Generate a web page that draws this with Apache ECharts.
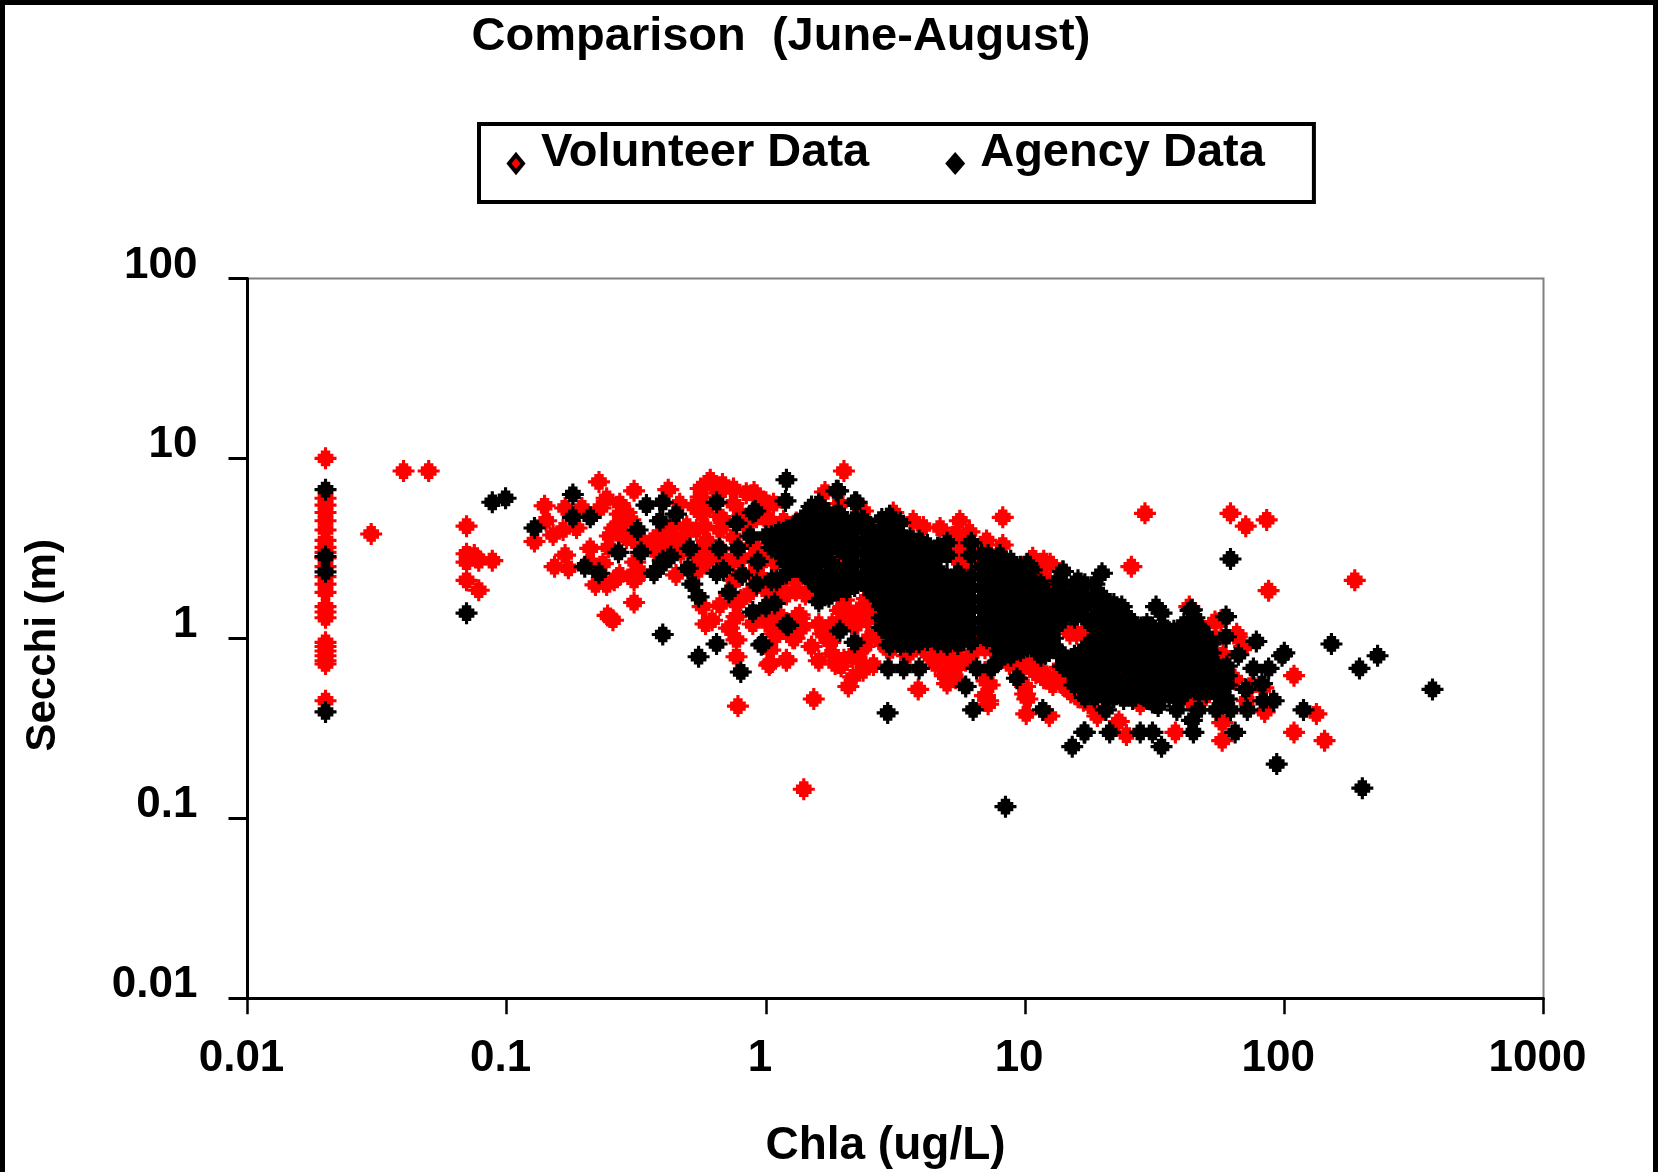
<!DOCTYPE html>
<html><head><meta charset="utf-8">
<style>html,body{margin:0;padding:0;background:#fff}#c{width:1658px;height:1172px}</style>
<script src="https://cdn.jsdelivr.net/npm/echarts@6/dist/echarts.min.js"></script>
</head><body><div id="c"></div>
<script>
const titleText = 'Comparison  (June-August)';
const xName = 'Chla (ug/L)';
const yName = 'Secchi (m)';
const xTickLabels = ['0.01','0.1','1','10','100','1000'];
const yTickLabels = ['0.01','0.1','1','10','100'];
const seriesNames = ['Volunteer Data','Agency Data'];

// Chla = 0.02 column and other isolated low-Chla volunteer samples
const volunteerLowChla = [
[0.02,10],[0.02,6],[0.02,5.5],[0.02,5],[0.02,4.5],[0.02,4],[0.02,3.5],[0.02,3.2],[0.02,3],[0.02,2.8],[0.02,2.5],[0.02,2.2],[0.02,2],[0.02,1.8],[0.02,1.5],[0.02,1.4],[0.02,1.3],[0.02,0.95],[0.02,0.9],[0.02,0.85],[0.02,0.8],[0.02,0.75],[0.02,0.72],[0.02,0.45],
[0.04,8.5],[0.05,8.5],[0.03,3.8],[0.07,4.2],[0.07,2.95],[0.07,2.65],[0.07,2.1],[0.075,2.9],[0.078,2.7],[0.078,1.85],[0.088,2.7]];
// volunteer cloud, Chla 0.1-1
const volunteerLeft = [
[0.227,7.4],[0.31,6.6],[0.42,6.7],[0.56,6.8],[0.61,7.6],[0.68,7.2],[0.66,6.4],[0.56,6.1],[0.84,6.4],[0.95,5.9],[0.75,6.8],[0.63,7],
[0.14,5.45],[0.168,5.3],[0.142,4.5],[0.195,5.3],[0.243,6],[0.273,5.6],[0.29,5],[0.23,5.3],[0.465,5.6],
[0.128,3.45],[0.151,3.75],[0.186,4.1],[0.165,4],[0.273,4.35],[0.3,4.55],[0.273,3.8],[0.25,3.7],[0.21,3.16],[0.168,2.9],[0.153,2.5],[0.173,2.45],[0.21,2.65],[0.235,2.6],[0.247,3.2],[0.31,2.3],[0.313,2.65],[0.243,1.98],[0.22,1.98],[0.26,2.1],[0.273,2.25],[0.31,1.58],[0.245,1.34],[0.257,1.26],
[0.367,3.5],[0.39,3.8],[0.41,3.9],[0.45,3.5],[0.495,4.2],[0.54,4],[0.58,4.2],[0.665,4],[0.75,3.65],[0.59,3.5],[0.55,2.85],[0.59,2.7],[0.48,3.7],[0.44,4.2],
[0.57,1.5],[0.665,1.53],[0.77,1.56],[0.62,1.26],[0.585,1.2],[0.72,1.14],[0.77,1.32],[0.77,0.98],[0.77,0.79],[0.78,0.42],[0.8,1.63],[0.89,2.8],[0.75,2.1],[0.8,2.75],
[0.665,4.75],[0.56,4.95],[0.53,5.4],[0.75,5.6],[0.84,4.2],[1,5.7],[0.41,3.4],[0.37,3.1],[0.33,3.2],[0.32,3.4],[0.55,2.4],[0.45,2.25],[0.33,2.3],[0.31,2.1],[0.665,3.1],[0.75,2.7],[0.89,3.35],[0.95,2.85],[0.87,1.8],[0.89,1.2],
[0.273,4.9],[0.26,4.1],[0.29,3.6],[0.34,3.4],[0.47,3],[0.54,2.5],[0.59,5.2],[0.69,4.4],[0.81,4.8],[1,4.7],[0.95,2.2],[0.7,2.7],[0.61,2.85],[0.56,3.1],[0.79,2.2],[0.89,2.3]];
// volunteer cloud, Chla 1-20
const volunteerMiddle = [
[1.04,0.73],[1.2,0.76],[1.04,0.86],[1.29,1],[1,1.32],[1.1,1.04],[1.3,1.3],[1.31,1.85],[1.17,1.8],[1.47,1.8],[1.02,1.8],[1.02,1.2],[1.14,1.32],[1.35,1.35],[1.39,1.16],
[1.04,4.4],[1.17,4.4],[1.31,4.4],[1.07,5.6],[1.03,0.71],[1.2,0.75],[1.53,0.46],[1.4,0.145],[1.8,0.82],[2,0.76],[2.37,0.66],[2.6,0.71],[2.17,0.61],[2.08,0.54],[3.87,0.52],[4.5,0.72],[5.1,0.66],[5,0.56],[7.1,0.58],[7.2,0.43],[10,0.49],[10,0.54],[10.1,0.38],[12.4,0.37],[10.1,0.72],[11,0.64],[13.6,0.69],[14.4,0.54],[16.8,0.45],
[1.03,1.26],[1.35,1.29],[1.08,1.06],[1.27,1],[1.66,1.06],[1.77,0.95],[2.5,1],[2.45,1.26],[1.93,1.43],[2,1.63],[2.45,1.66],[1.3,1.85],[1.2,1.75],[1.42,1.75],[1.3,2.1],[1.08,2.65],[0.92,2.95],[0.95,2.6],[1.17,4.5],[1.03,4.5],[0.92,4.7],[0.9,6.5],[1.96,2.83],
[2,8.5],[1.69,6.5],[1.93,5.6],[2.37,5.1],[3.1,5],[3.7,4.5],[4.05,4.15],[4.7,4.1],[5.6,4.5],[5.4,3.8],[6.1,3.9],[7.1,3.5],[8.2,3.3],[8.2,4.7],[11.8,2.7],[10.7,2.8],[12.5,2.6],[11.8,2.2],[13,2],[13.4,1.77],[5.4,2.8],[6.1,2.5],
[2.2,1.16],[2.67,1.06],[3.8,0.9],[6.9,0.97],[7.5,0.9],[9.3,0.9],[10.7,0.75],[2,1.5],[2.7,1.63],[15.8,1.06],[14.9,1.06],[16.9,1.06],
[3,0.85],[3.5,0.8],[4.2,0.82],[4.9,0.8],[5.4,0.85],[5.9,0.75],[6.4,0.85],[8,0.8],[8.7,0.72],[9.5,0.68],[11.8,0.6],[12.8,0.55],[13.5,0.62],[15.5,0.5],[18,0.42],[2.8,0.95],[2.3,0.85],[1.5,0.9],[1.6,0.75],
[5.2,3.4],[5.8,3.3],[6.5,3],[5.6,3.1],[6,2.7],[7,3.1],
[2.15,1.3],[2.3,1.45],[2.55,1.45],[2.75,1.3],[2.85,1.2],[1.8,1.2],[1.95,1.25],[1.6,1.2],[2.4,0.9],[2.15,0.8],[2.3,0.75],[1.95,0.7],[1.85,0.72],
[4.3,0.85],[4.7,0.8],[5.3,0.78],[5.5,0.7],[4.9,0.62],[5.4,0.6],[6.5,0.92],[7,0.88],[7.6,0.85],[7,0.65],[7.3,0.55],[7,0.48],[7.2,0.45],[9,0.85],[9.8,0.78],[10.5,0.72],[11.2,0.68],[11.8,0.64],[14,0.55],[15,0.5],[16,0.47],[10.2,0.46]];
// volunteer cloud, Chla above 15
const volunteerRight = [
[18.6,1.5],[25.7,2.5],[29,4.95],[62,4.95],[71,4.2],[85.5,4.55],[87,1.84],[187,2.1],[109,0.62],[133,0.38],[109,0.3],[143,0.27],[57.6,0.27],[57.6,0.34],[38,0.3],[23,0.345],[24.6,0.29],[19,0.37],[27.8,0.43],[47.3,0.445],[84,0.39],[71.6,0.45],[64.6,0.59],[83,0.53],[51,0.86],[58,0.81],[65.6,1.02],[54,1.24],[46.7,1.16],[18.6,1.5],[24.3,0.68],[13.9,0.68],[14.5,0.54],[43,1.5],[57,1.26],[54.6,1],[65.5,1.06],[44.6,0.43],[47,0.45],[70,0.9],[75,0.55]];

// separately visible agency samples
const agencyScattered = [
[0.02,6.7],[0.02,2.85],[0.02,2.34],[0.02,0.39],[0.07,1.38],[0.088,5.7],[0.099,6],
[0.18,6.3],[0.128,4.1],[0.18,4.7],[0.21,4.7],[0.346,5.5],[0.4,5.7],[0.45,4.9],[0.39,4.5],[0.32,4],[0.645,5.7],[1.2,7.6],[1.19,5.8],[0.91,5.1],[0.77,4.35],[0.87,3.7],[1,3.7],
[0.27,3],[0.33,3],[0.2,2.5],[0.227,2.3],[0.4,2.7],[0.37,2.3],[0.39,2.5],[0.43,2.85],[0.51,3.16],[0.66,3.16],[0.5,2.45],[0.52,2],[0.55,1.7],[0.72,1.8],[0.645,2.3],[0.685,2.4],[0.78,3.16],[0.81,2.25],[0.93,2.67],[0.92,2],[1.1,2.1],[1,1.5],[0.89,1.4],[1.08,1.56],[1.2,1.19],[0.96,0.92],[0.645,0.93],[0.55,0.79],[0.4,1.05],[0.8,0.65],
[0.89,5],[1.45,4.7],[1.6,5.4],[1.87,6.6],[2.24,5.7],[2.34,4.5],[0.97,0.93],[1.22,1.18],[1.93,1.1],[2.2,0.95],[2.96,0.68],[3.4,0.68],[3.9,0.68],[2.95,0.385],[6.3,0.4],[5.9,0.54],[6.5,0.68],[7.4,0.68],[9.3,0.6],[11.7,0.4],[16.9,0.3],[15.2,0.25],[20.5,0.4],[21.2,0.3],[27.8,0.3],[31,0.3],[33.6,0.25],[44.6,0.3],[44,0.35],[32.6,0.42],[38.5,0.4],[46.6,0.4],[54.6,0.4],[62,0.4],[72,0.4],[64.6,0.3],[8.4,0.116],[7.9,0.75],
[62,2.76],[152,0.93],[229,0.8],[195,0.68],[373,0.52],[93.5,0.2],[200,0.147],[100,0.83],[98,0.8],[78,0.96],[59.6,1.32],[59.6,1.02],[66.5,0.81],[76,0.68],[87,0.68],[71,0.52],[82,0.56],[91,0.45],[83,0.45],[118.6,0.4],[17,0.3],[14,2.35],[19.8,2.3],[23.6,1.5],[21.3,1.55],[32,1.5],[33.6,1.38],[44,1.44],[7.2,2.9],[7.6,2.7]];
// agency dense band read column by column: [Chla, [Secchi, ...]]
const agencyBand = [
[1.05,[3.7,3.2,2.1]],[1.12,[3.9,3.4,3]],[1.2,[4,3.5,3,2.6,2.3]],[1.3,[4.3,3.7,3.2,2.8,2.5]],[1.4,[4.7,3.9,3.4,3,2.6,2.3]],[1.5,[5.4,4.4,3.7,3.2,2.8,2.4,2.1]],[1.6,[5.6,4.7,4,3.4,3,2.6,2.2,1.9,1.6]],[1.75,[4.9,4.2,3.6,3.1,2.7,2.3,2,1.7]],[1.9,[6.6,5,4.3,3.7,3.2,2.4,2.1,1.85]],[2.05,[4.4,3.8,3.3,2.9,2.4,2.1,1.85]],[2.2,[5.7,4.6,4,3.4,3,2.6,2.2,1.95]],[2.4,[4.5,4,3.5,3,2.6,2.25,2]],[2.6,[3.9,3.4,3,2.6,2.3,2,1.75]],[2.8,[4.6,3.9,3.4,3,2.6,2.3,2,1.75,1.5,1.3,1.15]],[3,[4.8,4.1,3.6,3.1,2.7,2.4,2.1,1.85,1.6,1.4,1.2,1.05,0.92]],[3.3,[4.4,3.8,3.3,2.9,2.5,2.2,1.95,1.7,1.5,1.3,1.15,1,0.92]],[3.6,[3.6,3.1,2.7,2.4,2.1,1.85,1.6,1.4,1.2,1.05,0.92]],[3.9,[3.5,3,2.6,2.3,2,1.75,1.55,1.35,1.2,1.05,0.95]],[4.2,[3.3,2.9,2.5,2.2,1.9,1.65,1.45,1.25,1.1,0.98]],[4.6,[3.2,2.8,2.4,2.1,1.85,1.6,1.4,1.2,1.05,0.95]],[5,[3.4,2.9,2.2,1.95,1.7,1.5,1.3,1.15,1,0.92]],[5.5,[2.3,2,1.75,1.55,1.35,1.2,1.05,0.93]],[5.8,[2.1,1.85,1.6,1.4,1.25,1.1,0.98]],[6.2,[3.4,2.9,2.2,1.9,1.65,1.45,1.25,1.1,0.95]],[6.8,[2.9,2.5,2.2,1.9,1.65,1.45,1.25,1.1]],[7.1,[2.3,2,1.7,1.5,1.3,1.15,1]],[7.4,[2.4,2.1,1.85,1.6,1.4,1.2,1.05]],[7.7,[2.25,1.95,1.7,1.5,1.3,1.15,0.95]],[8,[2.9,2.5,2.2,1.9,1.65,1.45,1.25,1.1,0.97,0.85]],[8.4,[2.5,2.1,1.85,1.6,1.4,1.25,1.1,0.97,0.85]],[8.8,[2.7,2.3,2,1.75,1.55,1.35,1.2,1.05,0.93,0.8]],[9.2,[2.35,2.05,1.8,1.55,1.35,1.18,1.02,0.9]],[9.6,[2.5,2.15,1.9,1.65,1.45,1.25,1.1,0.97,0.85]],[10.2,[2.6,2.2,1.95,1.7,1.5,1.3,1.15,1,0.9]],[10.6,[2.4,2.05,1.8,1.6,1.4,1.2,1.05,0.95]],[11,[1.9,1.65,1.45,1.25,1.1,0.97,0.87]],[11.5,[2,1.75,1.5,1.3,1.15,1,0.9,0.8]],[12,[1.8,1.55,1.35,1.2,1.05,0.92,0.82]],[12.4,[1.65,1.45,1.25,1.1,0.97,0.85]],[12.8,[1.7,1.5,1.3,1.15,1,0.9]],[13.5,[2.1,1.8,1.6,1.4,1.2,0.85]],[14,[2.35,2,1.7,1.45,1.3,0.78,0.7]],[15.5,[2,1.75,1.5,1.3,0.8,0.7,0.62,0.55]],[16,[2.1,1.85,1.6,1.4]],[17,[2,1.7,1.5,1.3,0.88,0.78,0.68,0.6,0.53,0.47]],[18.5,[2,1.7,1.3,1.15,1,0.88,0.78,0.68,0.6,0.53,0.47]],[19.5,[1.75,1.55,1.35,1.2,1.05,0.92,0.82,0.72,0.63,0.56,0.5]],[20.5,[1.6,1.4,1.25,1.1,0.97,0.87,0.77,0.68,0.6,0.53,0.47]],[22,[1.55,1.4,1.25,1.1,0.97,0.87,0.77,0.6,0.53,0.47]],[23,[1.45,1.3,1.15,1,0.92,0.82,0.72,0.56,0.5]],[24,[1.25,1.1,0.97,0.87,0.77,0.58,0.52,0.46]],[25,[1.3,1.15,1.02,0.9,0.8,0.62,0.55,0.49]],[26,[1.2,1.05,0.93,0.83,0.74,0.65,0.58,0.52,0.46]],[28,[1.15,1,0.9,0.8,0.7,0.62,0.55,0.49]],[29.5,[1.2,1.07,0.95,0.85,0.75,0.66,0.58,0.52,0.46]],[31,[1.15,1,0.9,0.8,0.7,0.62,0.55,0.49,0.44]],[33,[1.1,0.98,0.87,0.77,0.69,0.61,0.54,0.48]],[34.5,[1.15,1.02,0.92,0.82,0.73,0.65,0.57,0.51]],[36,[1.08,0.97,0.87,0.77,0.69,0.61,0.54,0.48]],[37.5,[1.1,1,0.9,0.8,0.72,0.63,0.56,0.5]],[39,[1.05,0.93,0.83,0.74,0.66,0.58,0.52,0.46]],[41,[1.2,1.08,0.98,0.88,0.78,0.7,0.62,0.55,0.49]],[43.5,[1.43,1.25,1.12,1,0.88,0.78,0.7,0.62,0.55]],[45,[1.3,1.18,1.05,0.94,0.83,0.74,0.66,0.59,0.52]],[47,[1.15,1.02,0.9,0.8,0.72,0.64,0.57,0.5]],[48.5,[1.08,0.95,0.84,0.75,0.67,0.6,0.53]],[50,[1,0.88,0.78,0.7,0.62,0.55,0.5]],[52,[0.94,0.83,0.74,0.66,0.59,0.53]],[54,[0.72,0.64,0.57,0.5]],[57,[0.66,0.6,0.53,0.47]],[60,[0.7,0.62,0.55,0.46]]];

const volunteerPoints = [...volunteerLowChla, ...volunteerLeft, ...volunteerMiddle, ...volunteerRight];
const agencyPoints = [...agencyScattered, ...agencyBand.flatMap(([c, list]) => list.map(s => [c, s]))];

const FONT = '"Liberation Sans", Arial, sans-serif';
const BLOCK = 'path://M3 0H4V1H5V2H6V3H7V4H6V5H5V6H4V7H3V6H2V5H1V4H0V3H1V2H2V1H3Z';
const LEGEND_RED = 'path://M0 0L0 0M20 43L20 43M10 23L17 31.5L10 40L3 31.5Z';
const LEGEND_BLACK = 'path://M0 0L0 0M20 43L20 43M10 20L20 31.5L10 43L0 31.5Z';
const xFmt = v => xTickLabels[Math.round(Math.log10(v)) + 2];
const yFmt = v => yTickLabels[Math.round(Math.log10(v)) + 2];
const axisStyle = {show:true,onZero:false,lineStyle:{color:'#000',width:3}};
const chart = echarts.init(document.getElementById('c'), null, {renderer:'canvas'});
chart.setOption({
  animation:false,
  backgroundColor:'#fff',
  title:{text:titleText,left:781,textAlign:'center',top:14,padding:0,
    textStyle:{fontFamily:FONT,fontWeight:'bold',fontSize:47,color:'#000'}},
  legend:{left:479,top:124,orient:'horizontal',padding:[6,49,25,25],itemGap:76,itemWidth:20,itemHeight:43,
    borderColor:'#000',borderWidth:4,backgroundColor:'#fff',width:900,selectedMode:false,
    textStyle:{fontFamily:FONT,fontWeight:'bold',fontSize:47,color:'#000',padding:[0,0,0,10]},
    data:[{name:seriesNames[0],icon:LEGEND_RED,itemStyle:{color:'#f00',borderColor:'#000',borderWidth:4}},
          {name:seriesNames[1],icon:LEGEND_BLACK,itemStyle:{color:'#000'}}]},
  grid:{left:247.5,right:114.5,top:278.4,bottom:173.8,outerBoundsMode:'none',show:true,borderColor:'#808080',borderWidth:2,backgroundColor:'#fff'},
  xAxis:{type:'log',logBase:10,min:0.01,max:1000,
    name:xName,nameLocation:'middle',nameGap:125,
    nameTextStyle:{fontFamily:FONT,fontWeight:'bold',fontSize:46,color:'#000',padding:[0,20,0,0]},
    axisLine:axisStyle,
    axisTick:{show:true,length:16,lineStyle:{color:'#000',width:2.5}},
    minorTick:{show:false},splitLine:{show:false},
    axisLabel:{margin:39,fontFamily:FONT,fontWeight:'bold',fontSize:44,color:'#000',padding:[0,12,0,0],formatter:xFmt,showMaxLabel:true,showMinLabel:true}},
  yAxis:{type:'log',logBase:10,min:0.01,max:100,
    name:yName,nameLocation:'middle',nameGap:183,
    nameTextStyle:{fontFamily:FONT,fontWeight:'bold',fontSize:42,color:'#000',padding:[0,14,0,0]},
    axisLine:axisStyle,
    axisTick:{show:true,length:19,lineStyle:{color:'#000',width:3}},
    minorTick:{show:false},splitLine:{show:false},
    axisLabel:{margin:50,fontFamily:FONT,fontWeight:'bold',fontSize:44,color:'#000',verticalAlign:'bottom',lineHeight:26,formatter:yFmt,showMaxLabel:true,showMinLabel:true}},
  series:[
    {name:seriesNames[0],type:'scatter',symbol:BLOCK,symbolSize:22,silent:true,itemStyle:{color:'#f00',opacity:1},data:volunteerPoints,z:2},
    {name:seriesNames[1],type:'scatter',symbol:BLOCK,symbolSize:22,silent:true,itemStyle:{color:'#000',opacity:1},data:agencyPoints,z:3}
  ],
  graphic:[
    {type:'rect',silent:true,shape:{x:0,y:0,width:1658,height:5},style:{fill:'#000'}},
    {type:'rect',silent:true,shape:{x:0,y:0,width:5,height:1172},style:{fill:'#000'}},
    {type:'rect',silent:true,shape:{x:1653,y:0,width:5,height:1172},style:{fill:'#000'}}
  ]
});
</script></body></html>
